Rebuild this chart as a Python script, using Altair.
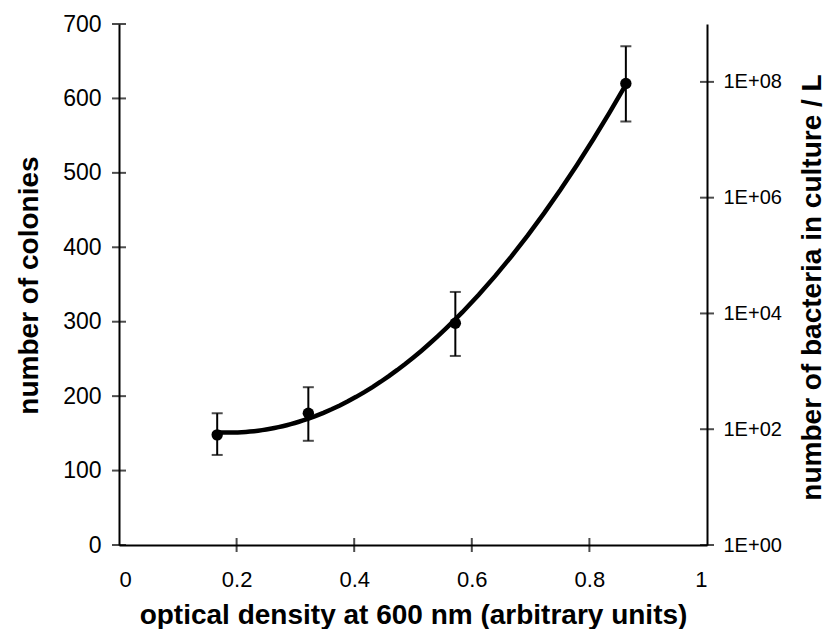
import altair as alt
import pandas as pd

# data
od = [0.167, 0.322, 0.572, 0.862]
colonies = [148, 177, 298, 620]
err_low = [121, 140, 254, 569]
err_high = [177, 212, 340, 670]

x_tick_values = [0.2, 0.4, 0.6, 0.8]
x_label_values = [0, 0.2, 0.4, 0.6, 0.8, 1]
y_tick_values = [0, 100, 200, 300, 400, 500, 600, 700]
right_tick_values = [1, 1e2, 1e4, 1e6, 1e8]

df = pd.DataFrame({"od": od, "colonies": colonies, "lo": err_low, "hi": err_high})
xt = pd.DataFrame({"v": x_tick_values, "zero": [0] * len(x_tick_values)})
yt = pd.DataFrame({"v": y_tick_values, "zero": [0] * len(y_tick_values)})
rt = pd.DataFrame({"b": right_tick_values, "one": [1] * len(right_tick_values)})

FONT = "Liberation Sans"
X_TITLE = "optical density at 600 nm (arbitrary units)"
Y_TITLE = "number of colonies"
R_TITLE = "number of bacteria in culture / L"

xscale = alt.Scale(domain=[0, 1], nice=False, zero=False)
yscale = alt.Scale(domain=[0, 700], nice=False)
rscale = alt.Scale(type="log", domain=[1, 1e9], nice=False)

xaxis = alt.Axis(
    values=x_label_values, format="~g", ticks=False, grid=False,
    domainColor="black", domainWidth=2,
    labelFont=FONT, labelFontSize=22, labelColor="black", labelPadding=24,
    title=X_TITLE, titleFont=FONT, titleFontSize=28, titleFontWeight="bold",
    titleColor="black", titleY=78, titleBaseline="alphabetic",
)
yaxis = alt.Axis(
    values=y_tick_values, ticks=False, grid=False,
    domainColor="black", domainWidth=2,
    labelFont=FONT, labelFontSize=23, labelColor="black", labelPadding=18,
    title=Y_TITLE, titleFont=FONT, titleFontSize=28, titleFontWeight="bold",
    titleColor="black", titleAngle=270, titleX=-82, titleY=261,
    titleAlign="center", titleBaseline="alphabetic",
)
raxis = alt.Axis(
    orient="right", values=right_tick_values, ticks=False, grid=False,
    labelExpr="'1E+0' + round(log(datum.value) / LN10)",
    domainColor="black", domainWidth=2,
    labelFont=FONT, labelFontSize=20, labelColor="black", labelPadding=16,
    title=R_TITLE, titleFont=FONT, titleFontSize=28, titleFontWeight="bold",
    titleColor="black", titleAngle=270, titleX=113, titleY=263,
    titleAlign="center", titleBaseline="alphabetic",
)

X = lambda f: alt.X(f, type="quantitative", scale=xscale, axis=xaxis, title=X_TITLE)
Y = lambda f: alt.Y(f, type="quantitative", scale=yscale, axis=yaxis, title=Y_TITLE)

curve = (
    alt.Chart(df)
    .transform_regression("od", "colonies", method="poly", order=2, extent=[0.167, 0.862])
    .mark_line(color="black", strokeWidth=4.5)
    .encode(x=X("od"), y=Y("colonies"))
)
bars = alt.Chart(df).mark_rule(color="black", strokeWidth=2).encode(
    x=X("od"), y=Y("lo"), y2="hi"
)
cap_lo = alt.Chart(df).mark_tick(color="black", orient="horizontal", size=11, thickness=2).encode(
    x=X("od"), y=Y("lo")
)
cap_hi = alt.Chart(df).mark_tick(color="black", orient="horizontal", size=11, thickness=2).encode(
    x=X("od"), y=Y("hi")
)
pts = alt.Chart(df).mark_circle(color="black", size=130, opacity=1).encode(
    x=X("od"), y=Y("colonies")
)
xticks = alt.Chart(xt).mark_tick(color="black", orient="vertical", size=14, thickness=2).encode(
    x=X("v"), y=Y("zero")
)
yticks = alt.Chart(yt).mark_tick(color="black", orient="horizontal", size=14, thickness=2).encode(
    x=X("zero"), y=Y("v")
)

left = alt.layer(curve, bars, cap_lo, cap_hi, pts, xticks, yticks)

right = alt.Chart(rt).mark_tick(color="black", orient="horizontal", size=14, thickness=2).encode(
    x=X("one"),
    y=alt.Y("b", type="quantitative", scale=rscale, axis=raxis, title=R_TITLE),
)

chart = (
    alt.layer(left, right)
    .resolve_scale(y="independent")
    .properties(
        width=588,
        height=521,
        padding={"left": 111, "top": 16, "right": 118, "bottom": 84},
        autosize=alt.AutoSizeParams(type="none"),
        background="white",
    )
    .configure_view(stroke=None)
)

chart.save("out.html", embed_options={"renderer": "svg", "actions": False})
